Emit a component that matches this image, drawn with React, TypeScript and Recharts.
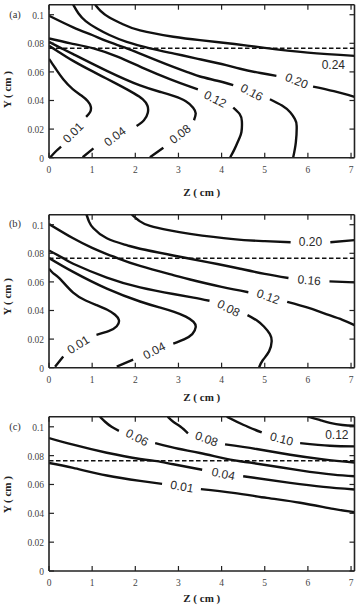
import React from 'react';
import { ComposedChart, Line, Scatter, XAxis, YAxis, ReferenceLine } from 'recharts';

type Pt = [number, number] | null;

// Shared axes
const Z_TICKS = [0, 1, 2, 3, 4, 5, 6, 7];
const Y_TICKS = [0, 0.02, 0.04, 0.06, 0.08, 0.1];
const Z_MAX = 7.08;
const Y_MAX = 0.107;
const INTERFACE_Y = 0.0765;

// ---- Panel (a) ----
const A_LEVELS = [0.01, 0.04, 0.08, 0.12, 0.16, 0.2, 0.24];
const A_001: Pt[] = [[0, 0.069], [0.07, 0.066], [0.16, 0.062], [0.33, 0.0549], [0.55, 0.048], [0.75, 0.0435], [0.9, 0.0395], [0.97, 0.0355], [0.95, 0.0318], [0.86, 0.0285], null, [0.28, 0.0078], [0.16, 0.0045], [0.03, 0.0003]];
const A_004: Pt[] = [[0, 0.0783], [0.2, 0.0745], [0.56, 0.0677], [1.0, 0.0605], [1.34, 0.0552], [1.7, 0.0495], [1.97, 0.045], [2.17, 0.041], [2.28, 0.0365], [2.29, 0.0315], [2.2, 0.0262], [2.03, 0.0222], null, [1.03, 0.0065], [0.78, 0.0003]];
const A_008: Pt[] = [[0, 0.081], [0.29, 0.0765], [0.56, 0.0724], [1.34, 0.0607], [2.11, 0.0505], [2.6, 0.0458], [2.9, 0.043], [3.17, 0.0395], [3.34, 0.035], [3.4, 0.031], [3.36, 0.0262], null, [2.65, 0.007], [2.34, 0.0003]];
const A_012: Pt[] = [[0, 0.0834], [0.5, 0.08], [1.03, 0.0765], [1.6, 0.0705], [2.2, 0.0625], [2.8, 0.055], [3.27, 0.0497], [3.45, 0.0478], null, [4.27, 0.035], [4.42, 0.0305], [4.47, 0.0255], [4.46, 0.018], [4.4, 0.0128], [4.3, 0.006], [4.2, 0.0003]];
const A_016: Pt[] = [[0, 0.0993], [0.56, 0.0912], [1.0, 0.0858], [1.34, 0.0815], [1.8, 0.0765], [2.11, 0.0728], [2.88, 0.0635], [3.27, 0.0592], [3.5, 0.0568], [3.9, 0.0538], [4.27, 0.0508], null, [5.12, 0.0409], [5.4, 0.0365], [5.59, 0.0318], [5.7, 0.027], [5.74, 0.0222], [5.72, 0.0105], [5.66, 0.0003]];
const A_020: Pt[] = [[0.56, 0.107], [0.68, 0.101], [0.85, 0.0955], [1.1, 0.0905], [1.4, 0.0858], [1.8, 0.081], [2.34, 0.0765], [2.9, 0.0728], [3.4, 0.0695], [4.0, 0.0655], [4.43, 0.0622], [4.9, 0.0592], [5.27, 0.0572], null, [6.12, 0.0497], [6.6, 0.0465], [7.08, 0.0425]];
const A_024: Pt[] = [[1.07, 0.107], [1.2, 0.1025], [1.4, 0.098], [1.7, 0.0935], [2.11, 0.089], [2.88, 0.0846], [3.5, 0.0822], [4.3, 0.0795], [5.0, 0.0768], [6.0, 0.0735], [7.08, 0.0712]];
const A_PATHS = [A_001, A_004, A_008, A_012, A_016, A_020, A_024];
const A_LABEL_Z = [0.56, 1.53, 3.04, 3.85, 4.7, 5.74, 6.59];
const A_LABEL_Y = [0.0175, 0.0147, 0.0164, 0.0409, 0.0456, 0.0537, 0.0645];
const A_TILT = [-45, -37, -38, 27, 28, 22, 0];

// ---- Panel (b) ----
const B_LEVELS = [0.01, 0.04, 0.08, 0.12, 0.16, 0.2];
const B_001: Pt[] = [[0, 0.0692], [0.1, 0.066], [0.25, 0.0623], [0.56, 0.0525], [0.85, 0.047], [1.1, 0.0438], [1.35, 0.0405], [1.53, 0.037], [1.62, 0.0333], [1.57, 0.029], [1.38, 0.0255], [1.1, 0.023], null, [0.33, 0.0079], [0.14, 0.0007]];
const B_004: Pt[] = [[0, 0.0767], [0.56, 0.067], [1.34, 0.0553], [2.11, 0.0463], [2.6, 0.0418], [2.9, 0.039], [3.17, 0.0357], [3.35, 0.032], [3.4, 0.0283], [3.32, 0.0235], [3.13, 0.0198], [2.88, 0.0168], null, [1.95, 0.0056], [1.57, 0.0007]];
const B_008: Pt[] = [[0, 0.082], [0.35, 0.0762], [0.56, 0.0727], [1.34, 0.063], [2.11, 0.0562], [2.88, 0.0515], [3.35, 0.049], [3.72, 0.0468], null, [4.6, 0.0368], [4.82, 0.033], [4.98, 0.0288], [5.12, 0.0235], [5.16, 0.0183], [5.1, 0.0114], [4.95, 0.005], [4.87, 0.0003]];
const B_012: Pt[] = [[0, 0.1005], [0.56, 0.0905], [1.0, 0.0838], [1.34, 0.0795], [1.6, 0.0765], [2.11, 0.0712], [2.88, 0.0648], [3.27, 0.0617], [4.0, 0.0565], [4.62, 0.0528], null, [5.52, 0.046], [6.0, 0.042], [6.36, 0.0382], [6.8, 0.0335], [7.08, 0.0298]];
const B_016: Pt[] = [[0.87, 0.107], [0.93, 0.102], [1.03, 0.0975], [1.34, 0.0905], [1.8, 0.0857], [2.11, 0.0832], [2.88, 0.0785], [3.27, 0.0762], [3.9, 0.0725], [4.43, 0.0692], [5.0, 0.0656], [5.55, 0.0627], null, [6.5, 0.0604], [7.08, 0.0597]];
const B_020: Pt[] = [[1.92, 0.107], [2.1, 0.1025], [2.34, 0.0992], [2.8, 0.096], [3.27, 0.0936], [4.27, 0.0899], [5.0, 0.0885], [5.6, 0.0877], null, [6.52, 0.0877], [7.08, 0.0892]];
const B_PATHS = [B_001, B_004, B_008, B_012, B_016, B_020];
const B_LABEL_Z = [0.68, 2.44, 4.16, 5.08, 6.03, 6.06];
const B_LABEL_Y = [0.016, 0.0118, 0.0415, 0.0496, 0.0611, 0.0877];
const B_TILT = [-32, -27, 27, 20, 5, 0];

// ---- Panel (c) ----
const C_LEVELS = [0.01, 0.04, 0.06, 0.08, 0.1, 0.12];
const C_001: Pt[] = [[0, 0.0749], [0.56, 0.0715], [1.34, 0.0662], [2.11, 0.0625], [2.62, 0.0604], null, [3.52, 0.0568], [4.27, 0.0542], [5.05, 0.0507], [5.82, 0.0473], [6.59, 0.0431], [7.08, 0.0408]];
const C_004: Pt[] = [[0, 0.0922], [0.56, 0.0876], [1.34, 0.082], [2.11, 0.0777], [2.5, 0.0762], [2.88, 0.074], [3.55, 0.0702], null, [4.5, 0.0657], [5.59, 0.0611], [6.36, 0.0583], [7.08, 0.0565]];
const C_006: Pt[] = [[1.18, 0.107], [1.3, 0.1035], [1.45, 0.1], [1.62, 0.0972], null, [2.46, 0.0887], [3.0, 0.0848], [3.5, 0.0818], [4.2, 0.0772], [4.66, 0.0752], [5.82, 0.0698], [6.59, 0.0668], [7.08, 0.0657]];
const C_008: Pt[] = [[2.75, 0.107], [2.88, 0.1035], [3.05, 0.1], [3.22, 0.0955], null, [4.08, 0.0878], [4.81, 0.0846], [5.59, 0.0806], [6.36, 0.0774], [7.08, 0.0752]];
const C_010: Pt[] = [[4.12, 0.107], [4.5, 0.1014], [4.93, 0.0961], null, [5.82, 0.0887], [6.51, 0.0869], [7.08, 0.0864]];
const C_012: Pt[] = [[6.0, 0.107], [6.3, 0.1045], [6.51, 0.1027], [6.8, 0.1012], [7.08, 0.1007]];
const C_PATHS = [C_001, C_004, C_006, C_008, C_010, C_012];
const C_LABEL_Z = [3.08, 4.04, 2.04, 3.65, 5.39, 6.67];
const C_LABEL_Y = [0.0585, 0.0672, 0.0925, 0.0915, 0.0915, 0.0945];
const C_TILT = [10, 12, 27, 20, 14, 0];

// ---- styling ----
const INK = '#111';
const FRAME = '#222';
const SERIF = '"Liberation Serif", "Times New Roman", serif';
const SANS = '"Liberation Sans", Arial, sans-serif';
const TICK_LEN = 5;
const W = 359;
const PLOT_LEFT = 49;
const PLOT_RIGHT = 354.5;
const BOTTOM_AXIS_H = 40;

const tickText = { fontFamily: SERIF, fontSize: 9.5, fill: '#444' };

function BottomTick(p: any) {
  const { x, y, payload } = p;
  return (
    <g>
      <line x1={x} x2={x} y1={y} y2={y - TICK_LEN} stroke={FRAME} strokeWidth={1.2} />
      <text x={x} y={y + 12} textAnchor="middle" dominantBaseline="central" {...tickText}>
        {String(payload.value)}
      </text>
    </g>
  );
}

function TopTick(p: any) {
  const { x, y } = p;
  return <line x1={x} x2={x} y1={y} y2={y + TICK_LEN} stroke={FRAME} strokeWidth={1.2} />;
}

function LeftTick(p: any) {
  const { x, y, payload } = p;
  return (
    <g>
      <line x1={x} x2={x + TICK_LEN} y1={y} y2={y} stroke={FRAME} strokeWidth={1.2} />
      <text x={x - 5} y={y + 1} textAnchor="end" dominantBaseline="central" {...tickText}>
        {String(payload.value)}
      </text>
    </g>
  );
}

function RightTick(p: any) {
  const { x, y } = p;
  return <line x1={x} x2={x - TICK_LEN} y1={y} y2={y} stroke={FRAME} strokeWidth={1.2} />;
}

function toSeries(path: Pt[]) {
  const out: { z: number; y: number | null }[] = [];
  path.forEach((p, i) => {
    if (p === null) {
      const prev = path[i - 1] as [number, number];
      out.push({ z: prev[0], y: null });
    } else {
      out.push({ z: p[0], y: p[1] });
    }
  });
  return out;
}

type PanelProps = {
  tag: string;
  levels: number[];
  paths: Pt[][];
  labelZ: number[];
  labelY: number[];
  tilt: number[];
  top: number;
  marginTop: number;
  plotH: number;
  tagDy: number;
  yTitleDy: number;
  zTitleDy: number;
};

function Panel(props: PanelProps) {
  const { tag, levels, paths, labelZ, labelY, tilt, top, marginTop, plotH, tagDy, yTitleDy, zTitleDy } = props;
  const H = marginTop + 1 + plotH + BOTTOM_AXIS_H;
  const plotTop = marginTop + 1;
  const plotBottom = plotTop + plotH;
  const labels = levels.map((lv, i) => ({ z: labelZ[i], y: labelY[i], text: lv.toFixed(2), tilt: tilt[i] }));

  const renderLabel = (p: any) => {
    const d = p.payload ?? p;
    return (
      <text
        x={p.cx}
        y={p.cy}
        textAnchor="middle"
        dominantBaseline="central"
        transform={`rotate(${d.tilt} ${p.cx} ${p.cy})`}
        fontFamily={SANS}
        fontSize={12}
        fill="#2a2a2a"
      >
        {d.text}
      </text>
    );
  };

  return (
    <div style={{ position: 'absolute', left: 0, top, width: W, height: H }}>
      <ComposedChart
        width={W}
        height={H}
        margin={{ top: marginTop, right: W - PLOT_RIGHT - 1, left: 0, bottom: 0 }}
      >
        <XAxis
          xAxisId="z"
          dataKey="z"
          type="number"
          domain={[0, Z_MAX]}
          allowDataOverflow
          ticks={Z_TICKS}
          interval={0}
          height={BOTTOM_AXIS_H}
          tickSize={0}
          tickMargin={0}
          tickLine={false}
          axisLine={{ stroke: FRAME, strokeWidth: 1.6 }}
          tick={BottomTick}
        />
        <XAxis
          xAxisId="top"
          orientation="top"
          dataKey="z"
          type="number"
          domain={[0, Z_MAX]}
          allowDataOverflow
          ticks={Z_TICKS}
          interval={0}
          height={1}
          tickSize={0}
          tickMargin={0}
          tickLine={false}
          axisLine={{ stroke: FRAME, strokeWidth: 1.6 }}
          tick={TopTick}
        />
        <YAxis
          yAxisId="y"
          type="number"
          domain={[0, Y_MAX]}
          allowDataOverflow
          ticks={Y_TICKS}
          interval={0}
          width={PLOT_LEFT}
          tickSize={0}
          tickMargin={0}
          tickLine={false}
          axisLine={{ stroke: FRAME, strokeWidth: 1.6 }}
          tick={LeftTick}
        />
        <YAxis
          yAxisId="right"
          orientation="right"
          type="number"
          domain={[0, Y_MAX]}
          allowDataOverflow
          ticks={Y_TICKS}
          interval={0}
          width={1}
          tickSize={0}
          tickMargin={0}
          tickLine={false}
          axisLine={{ stroke: FRAME, strokeWidth: 1.6 }}
          tick={RightTick}
        />
        <ReferenceLine
          xAxisId="z"
          yAxisId="y"
          y={INTERFACE_Y}
          stroke={INK}
          strokeWidth={1.4}
          strokeDasharray="4.5 2.5"
        />
        {paths.map((path, i) => (
          <Line
            key={`c${i}`}
            xAxisId="z"
            yAxisId="y"
            data={toSeries(path)}
            dataKey="y"
            type="natural"
            stroke={INK}
            strokeWidth={2.4}
            dot={false}
            activeDot={false}
            isAnimationActive={false}
            connectNulls={false}
          />
        ))}
        <Scatter
          xAxisId="z"
          yAxisId="y"
          data={labels}
          dataKey="y"
          shape={renderLabel}
          isAnimationActive={false}
        />
      </ComposedChart>
      <svg
        width={W}
        height={H}
        style={{ position: 'absolute', left: 0, top: 0, pointerEvents: 'none' }}
      >
        <text x={15} y={plotTop + tagDy} textAnchor="middle" dominantBaseline="central" fontFamily={SERIF} fontSize={10.5} fill="#333">
          {tag}
        </text>
        <text
          x={7.5}
          y={plotTop + yTitleDy}
          textAnchor="middle"
          dominantBaseline="central"
          transform={`rotate(-90 7.5 ${plotTop + yTitleDy})`}
          fontFamily={SERIF}
          fontWeight="bold"
          fontSize={11}
          fill="#222"
        >
          Y ( cm )
        </text>
        <text
          x={(PLOT_LEFT + PLOT_RIGHT) / 2}
          y={plotBottom + zTitleDy}
          textAnchor="middle"
          dominantBaseline="central"
          fontFamily={SERIF}
          fontWeight="bold"
          fontSize={11}
          fill="#222"
        >
          Z ( cm )
        </text>
      </svg>
    </div>
  );
}

export default function App() {
  return (
    <div style={{ position: 'absolute', left: 0, top: 0, width: W, height: 606, background: '#fff' }}>
      <Panel tag="(a)" levels={A_LEVELS} paths={A_PATHS} labelZ={A_LABEL_Z} labelY={A_LABEL_Y} tilt={A_TILT}
        top={0} marginTop={3.7} plotH={153} tagDy={10} yTitleDy={85} zTitleDy={34} />
      <Panel tag="(b)" levels={B_LEVELS} paths={B_PATHS} labelZ={B_LABEL_Z} labelY={B_LABEL_Y} tilt={B_TILT}
        top={210} marginTop={3.7} plotH={153} tagDy={8.5} yTitleDy={82} zTitleDy={29} />
      <Panel tag="(c)" levels={C_LEVELS} paths={C_PATHS} labelZ={C_LABEL_Z} labelY={C_LABEL_Y} tilt={C_TILT}
        top={412} marginTop={3.7} plotH={154.3} tagDy={10} yTitleDy={78} zTitleDy={27} />
    </div>
  );
}
